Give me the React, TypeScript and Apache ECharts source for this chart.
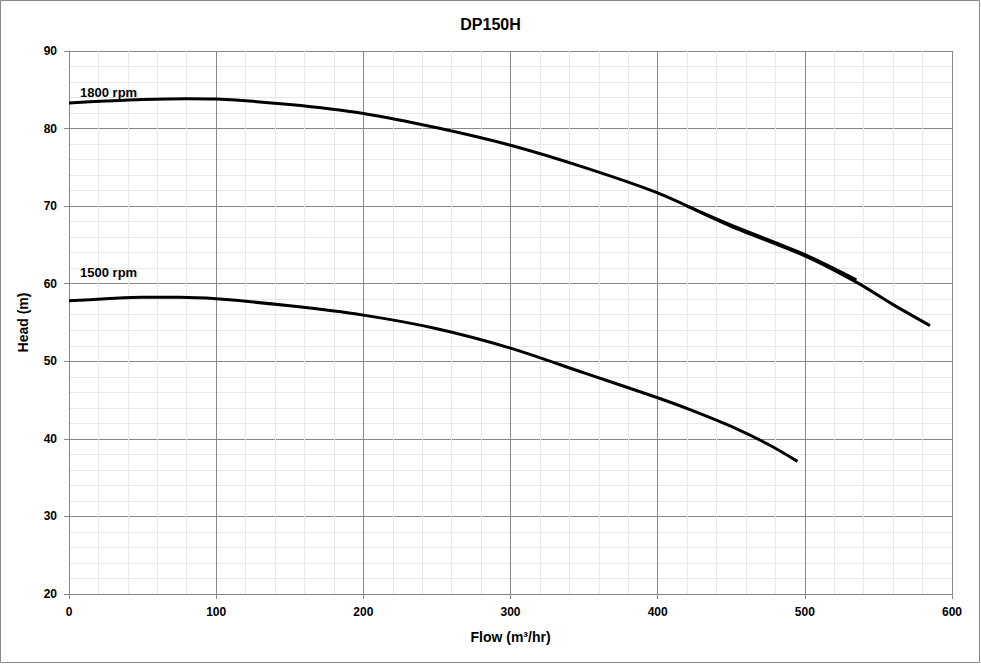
import * as echarts from 'echarts';
import { useEffect, useRef } from 'react';

const TITLE = 'DP150H';

// flow (m3/hr), head (m)
const RPM1800: [number, number][] = [
  [0, 83.3], [25, 83.55], [50, 83.75], [80, 83.85], [100, 83.8], [150, 83.1],
  [200, 81.95], [250, 80.1], [300, 77.85], [350, 75.0], [400, 71.7], [450, 67.4],
  [500, 63.6], [535, 60.2], [560, 57.3], [585, 54.6],
];
// second trace that overlaps the 1800 rpm curve towards the end
const RPM1800_TAIL: [number, number][] = [
  [420, 70.0], [450, 67.55], [500, 63.75], [535, 60.5],
];
const RPM1500: [number, number][] = [
  [0, 57.8], [25, 58.05], [50, 58.25], [75, 58.25], [100, 58.05], [150, 57.15],
  [200, 55.95], [250, 54.2], [300, 51.7], [350, 48.5], [400, 45.3], [425, 43.55],
  [450, 41.6], [475, 39.3], [495, 37.1],
];

// curve captions, positioned in data space
const CAPTIONS: { text: string; at: [number, number] }[] = [
  { text: '1800 rpm', at: [7.5, 84.7] },
  { text: '1500 rpm', at: [7.5, 61.4] },
];

const FONT = '"Liberation Sans", Arial, sans-serif';

export default function App() {
  const chartRef = useRef<HTMLDivElement>(null);

  useEffect(() => {
    document.body.style.margin = '0';
    if (!chartRef.current) return;
    const chart = echarts.init(chartRef.current, undefined, { renderer: 'svg' });

    const curve = (name: string, data: [number, number][]): echarts.SeriesOption => ({
      name,
      type: 'line',
      data,
      smooth: 0.3,
      symbol: 'none',
      lineStyle: { color: '#000', width: 3 },
    });

    chart.setOption({
      animation: false,
      backgroundColor: '#fff',
      title: {
        text: TITLE,
        left: 'center',
        top: 11,
        textStyle: { fontSize: 16, fontWeight: 'bold', color: '#000', fontFamily: FONT },
      },
      graphic: [{
        type: 'rect',
        shape: { x: 0.5, y: 0.5, width: 979, height: 662 },
        style: { fill: 'none', stroke: '#888', lineWidth: 1 },
        silent: true,
      }],
      grid: { left: 69, right: 29, top: 51, bottom: 70 },
      xAxis: {
        type: 'value',
        min: 0,
        max: 600,
        interval: 100,
        name: 'Flow (m³/hr)',
        nameLocation: 'middle',
        nameGap: 36,
        nameTextStyle: { fontSize: 14, fontWeight: 'bold', color: '#000', fontFamily: FONT },
        axisLine: { lineStyle: { color: '#888' } },
        axisTick: { show: true, length: 5, lineStyle: { color: '#888' } },
        axisLabel: { color: '#000', fontWeight: 'bold', fontSize: 12, fontFamily: FONT, margin: 12 },
        splitLine: { show: true, lineStyle: { color: '#888', width: 1 } },
        minorTick: { show: false, splitNumber: 5 },
        minorSplitLine: { show: true, lineStyle: { color: '#e8e8e8', width: 1 } },
      },
      yAxis: {
        type: 'value',
        min: 20,
        max: 90,
        interval: 10,
        name: 'Head (m)',
        nameLocation: 'middle',
        nameGap: 39,
        nameRotate: 90,
        nameTextStyle: { fontSize: 14, fontWeight: 'bold', color: '#000', fontFamily: FONT },
        axisLine: { show: true, lineStyle: { color: '#888' } },
        axisTick: { show: true, length: 5, lineStyle: { color: '#888' } },
        axisLabel: { color: '#000', fontWeight: 'bold', fontSize: 12, fontFamily: FONT, margin: 12 },
        splitLine: { show: true, lineStyle: { color: '#888', width: 1 } },
        minorTick: { show: false, splitNumber: 5 },
        minorSplitLine: { show: true, lineStyle: { color: '#e8e8e8', width: 1 } },
      },
      series: [
        curve('1800 rpm', RPM1800),
        curve('1800 rpm tail', RPM1800_TAIL),
        curve('1500 rpm', RPM1500),
        {
          name: 'captions',
          type: 'scatter',
          data: CAPTIONS.map(c => ({ value: c.at, name: c.text })),
          symbolSize: 0.1,
          itemStyle: { color: '#000', opacity: 1 },
          label: {
            show: true,
            position: 'right',
            distance: 0,
            formatter: (p: any) => p.name,
            color: '#000',
            opacity: 1,
            fontWeight: 'bold',
            fontSize: 13,
            fontFamily: FONT,
          },
          silent: true,
        },
      ],
    });

    return () => chart.dispose();
  }, []);

  return <div ref={chartRef} style={{ width: 981, height: 664 }} />;
}
